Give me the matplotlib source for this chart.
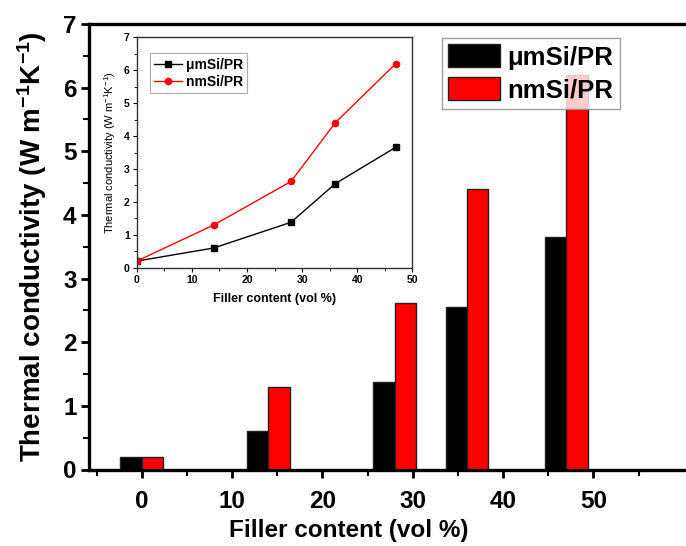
import matplotlib
matplotlib.use("Agg")
import matplotlib.pyplot as plt
from matplotlib.ticker import FixedLocator, MultipleLocator

# filler loading (vol %) and thermal conductivity (W m^-1 K^-1)
filler = [0, 14, 28, 36, 47]
um_si = [0.2, 0.6, 1.38, 2.55, 3.66]
nm_si = [0.2, 1.3, 2.62, 4.4, 6.2]
labels = ["μmSi/PR", "nmSi/PR"]
x_major = [0, 10, 20, 30, 40, 50]
x_minor = [-5, 5, 15, 25, 35, 45, 55]

plt.rcParams["font.family"] = ["Liberation Sans", "DejaVu Sans"]
plt.rcParams["font.weight"] = "bold"
plt.rcParams["mathtext.default"] = "regular"

W, H = 686, 546
fig = plt.figure(figsize=(W / 100, H / 100), dpi=100)
ylab = "Thermal conductivity (W m$^{-1}$K$^{-1}$)"

# main bar chart; right edge runs past the figure like the cropped original
ax = fig.add_axes([89 / W, 1 - 469.5 / H, (700 - 89) / W, (469.5 - 24) / H])
bw = 2.36
ax.bar([x - bw / 2 for x in filler], um_si, width=bw, color="black",
       edgecolor="#222222", lw=1, label=labels[0])
ax.bar([x + bw / 2 for x in filler], nm_si, width=bw, color="#ff0000",
       edgecolor="#222222", lw=1, label=labels[1])
ax.set_xlim(-5.84, 61.8)
ax.set_ylim(0, 7)
ax.xaxis.set_major_locator(FixedLocator(x_major))
ax.xaxis.set_minor_locator(FixedLocator(x_minor))
ax.yaxis.set_major_locator(MultipleLocator(1))
ax.yaxis.set_minor_locator(MultipleLocator(0.5))
for s in ax.spines.values():
    s.set_linewidth(2.4)
ax.tick_params(which="major", direction="out", length=6, width=2,
               labelsize=17.5)
ax.tick_params(axis="x", which="major", pad=9)
ax.tick_params(axis="y", which="major", pad=3)
ax.tick_params(which="minor", direction="out", length=4, width=1.5)
for t in ax.get_xticklabels() + ax.get_yticklabels():
    t.set_fontweight("bold")
ax.set_xlabel("Filler content (vol %)", fontsize=17.5, fontweight="bold")
ax.xaxis.set_label_coords((349 - 89) / 611, -0.112)
ax.set_ylabel(ylab, fontsize=20, fontweight="bold")
ax.yaxis.set_label_coords(-0.066, 0.5)
leg = ax.legend(loc="upper left", bbox_to_anchor=((442 - 89) / 611, 1 - 14 / 445.5),
                prop={"size": 18.5, "weight": "bold"}, frameon=True, fancybox=False,
                edgecolor="#888888", handlelength=2.0, handleheight=1.0,
                handletextpad=0.3, borderpad=0.25, labelspacing=0.3,
                borderaxespad=0)
leg.get_frame().set_linewidth(1)

# inset line chart
ins = fig.add_axes([136.7 / W, 1 - 267.7 / H, (412.3 - 136.7) / W, (267.7 - 37.3) / H])
ins.plot(filler, um_si, "-s", color="black", lw=1, ms=4, label=labels[0])
ins.plot(filler, nm_si, "-o", color="#ff0000", lw=1, ms=4.5, label=labels[1])
ins.set_xlim(0, 50)
ins.set_ylim(0, 7)
ins.xaxis.set_major_locator(MultipleLocator(10))
ins.xaxis.set_minor_locator(MultipleLocator(5))
ins.yaxis.set_major_locator(MultipleLocator(1))
ins.yaxis.set_minor_locator(MultipleLocator(0.5))
for s in ins.spines.values():
    s.set_linewidth(1)
    s.set_color("#333333")
ins.tick_params(which="major", direction="out", length=3, width=0.8,
                labelsize=7.5, pad=2)
ins.tick_params(which="minor", direction="out", length=2, width=0.6)
for t in ins.get_xticklabels() + ins.get_yticklabels():
    t.set_fontweight("bold")
ins.set_xlabel("Filler content (vol %)", fontsize=9, fontweight="bold",
               labelpad=6)
ins.set_ylabel(ylab, fontsize=8, fontweight="normal", labelpad=4)
ileg = ins.legend(loc="upper left", bbox_to_anchor=(0.048, 0.93),
                  prop={"size": 10, "weight": "bold"}, frameon=True,
                  fancybox=False, edgecolor="#999999", handlelength=2.0,
                  handletextpad=0.3, borderpad=0.3, labelspacing=0.25,
                  borderaxespad=0)
ileg.get_frame().set_linewidth(0.8)

fig.savefig("out.png", dpi=100)
